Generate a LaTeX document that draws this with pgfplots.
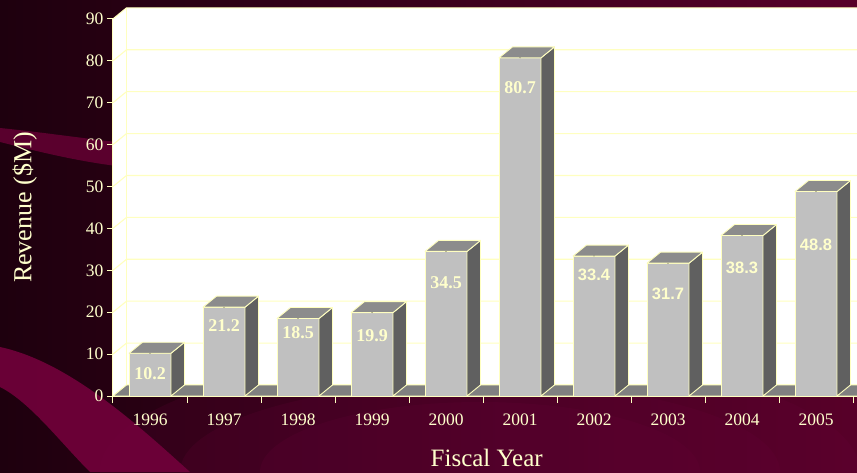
\documentclass[border=0pt]{standalone}
\usepackage{fontspec}
\setmainfont{Liberation Serif}
\newfontfamily\labsans{Liberation Sans}
\usepackage{pgfplots}
\pgfplotsset{compat=1.18}
\usepackage{pgfplotstable}
\usetikzlibrary{backgrounds}

\definecolor{edge}{HTML}{FFFFC0}
\definecolor{txt}{HTML}{FFFFCC}
\definecolor{bfront}{HTML}{C0C0C0}
\definecolor{btop}{HTML}{8C8C8C}
\definecolor{bside}{HTML}{606060}
\definecolor{floorc}{HTML}{808080}
\definecolor{bgA}{HTML}{1E000E}
\definecolor{bgB}{HTML}{580029}
\definecolor{bgC}{HTML}{6A003A}
\definecolor{swA}{HTML}{640033}
\definecolor{swB}{HTML}{72003B}

% idx, year, revenue ($M), vertical position of the value label
\pgfplotstableread{
idx year rev ly
0 1996 10.2 5.25
1 1997 21.2 16.9
2 1998 18.5 15.1
3 1999 19.9 14.3
4 2000 34.5 27.0
5 2001 80.7 73.5
6 2002 33.4 28.9
7 2003 31.7 24.3
8 2004 38.3 30.5
9 2005 48.8 36.0
}\revdata

\begin{document}
\begin{tikzpicture}[x=1pt,y=1pt]
\begin{axis}[
  x=74pt, y=4.19pt,
  at={(150pt,76pt)}, anchor=origin,
  xmin=-0.5, xmax=9.6, ymin=0, ymax=90,
  enlargelimits=false,
  clip=false,
  axis on top=true,
  axis x line*=bottom, axis y line*=left,
  axis line style={edge, line width=1pt},
  tick align=outside,
  major tick length=6pt,
  minor tick length=7pt,
  xtick={0,...,9},
  xticklabels from table={\revdata}{year},
  minor xtick={-0.5,0.5,...,9.5},
  major x tick style={draw=none},
  minor x tick style={edge, line width=1pt},
  ytick={0,10,...,90},
  y tick style={edge, line width=1pt},
  tick label style={text=txt, font=\fontsize{17.5}{18}\selectfont},
  /pgf/number format/assume math mode=true,
  xticklabel style={yshift=-8pt},
  xlabel={Fiscal Year},
  ylabel={Revenue (\$M)},
  every axis x label/.style={at={(axis description cs:0.5,-0.163)}, anchor=center,
     text=txt, font=\fontsize{25}{28}\selectfont},
  every axis y label/.style={at={(axis description cs:-0.118,0.5)}, rotate=90, anchor=center,
     text=txt, font=\fontsize{26}{28}\selectfont},
]
% walls
\fill[white] (axis cs:-0.5,0) -- (axis cs:-0.5,90) -- ++(13.5pt,11pt) -- ++(760pt,0pt)
   -- ++(0pt,-377.1pt) -- cycle;
\pgfplotsinvokeforeach{0,10,...,90}{
  \draw[edge, line width=1.1pt] (axis cs:-0.5,#1) -- ++(13.5pt,11pt) -- ++(760pt,0pt);
}
\draw[edge, line width=1pt] (axis cs:-0.5,0) ++(13.5pt,11pt) -- ++(0pt,377.1pt);
% floor
\filldraw[fill=floorc, draw=edge, line width=0.9pt] (axis cs:-0.5,0) -- ++(13.5pt,11pt)
   -- ++(760pt,0pt) -- ++(-13.5pt,-11pt) -- cycle;

% top and side faces of the bars
\addplot[scatter, only marks, mark=*, mark size=0.1pt, mark options={draw=none, fill=none},
  visualization depends on={\thisrow{rev}\as\rev},
  scatter/@pre marker code/.code={%
    \begin{scope}
    \pgfkeys{/pgf/fpu=false}%
    \path[fill=bside, draw=edge, line width=0.9pt, line join=round]
      (21pt,0pt) -- (34.5pt,11pt) -- (34.5pt,11pt-\rev*4.19pt) -- (21pt,-\rev*4.19pt) -- cycle;
    \path[fill=btop, draw=edge, line width=0.9pt, line join=round]
      (-21pt,0pt) -- (21pt,0pt) -- (34.5pt,11pt) -- (-7.5pt,11pt) -- cycle;
    \end{scope}
  },
  scatter/@post marker code/.code={}]
  table[x=idx, y=rev]{\revdata};

% front faces
\addplot[ybar, bar width=42pt, fill=bfront, draw=edge, line width=0.9pt]
  table[x=idx, y=rev]{\revdata};

% value labels
\addplot[draw=none, mark=none, restrict x to domain=-1:5.5,
  point meta=explicit symbolic,
  nodes near coords={\pgfplotspointmeta},
  every node near coord/.append style={anchor=center, text=txt,
     font=\bfseries\fontsize{18}{18}\selectfont}]
  table[x=idx, y=ly, meta=rev]{\revdata};
\addplot[draw=none, mark=none, restrict x to domain=5.5:10,
  point meta=explicit symbolic,
  nodes near coords={\pgfplotspointmeta},
  every node near coord/.append style={anchor=center, text=txt,
     font=\labsans\bfseries\fontsize{16.5}{17}\selectfont}]
  table[x=idx, y=ly, meta=rev]{\revdata};
\end{axis}

\begin{scope}[on background layer]
\shade[left color=bgA, right color=bgB] (0,0) rectangle (857,472);
\fill[bgC, opacity=0.18] (480,0) ellipse (380 and 120);
\fill[bgC, opacity=0.18] (480,0) ellipse (300 and 90);
\fill[bgC, opacity=0.18] (480,0) ellipse (220 and 70);
\fill[swA, opacity=0.85] (0,344) .. controls (40,340) and (80,334) .. (125,329)
   -- (125,305) .. controls (80,310) and (40,320) .. (0,330) -- cycle;
\fill[swB, opacity=0.9] (0,125) .. controls (70,110) and (140,45) .. (190,0)
   -- (90,0) .. controls (60,30) and (30,70) .. (0,85) -- cycle;
\end{scope}
\pgfresetboundingbox
\path[use as bounding box] (0,0) rectangle (857,472);
\end{tikzpicture}
\end{document}
